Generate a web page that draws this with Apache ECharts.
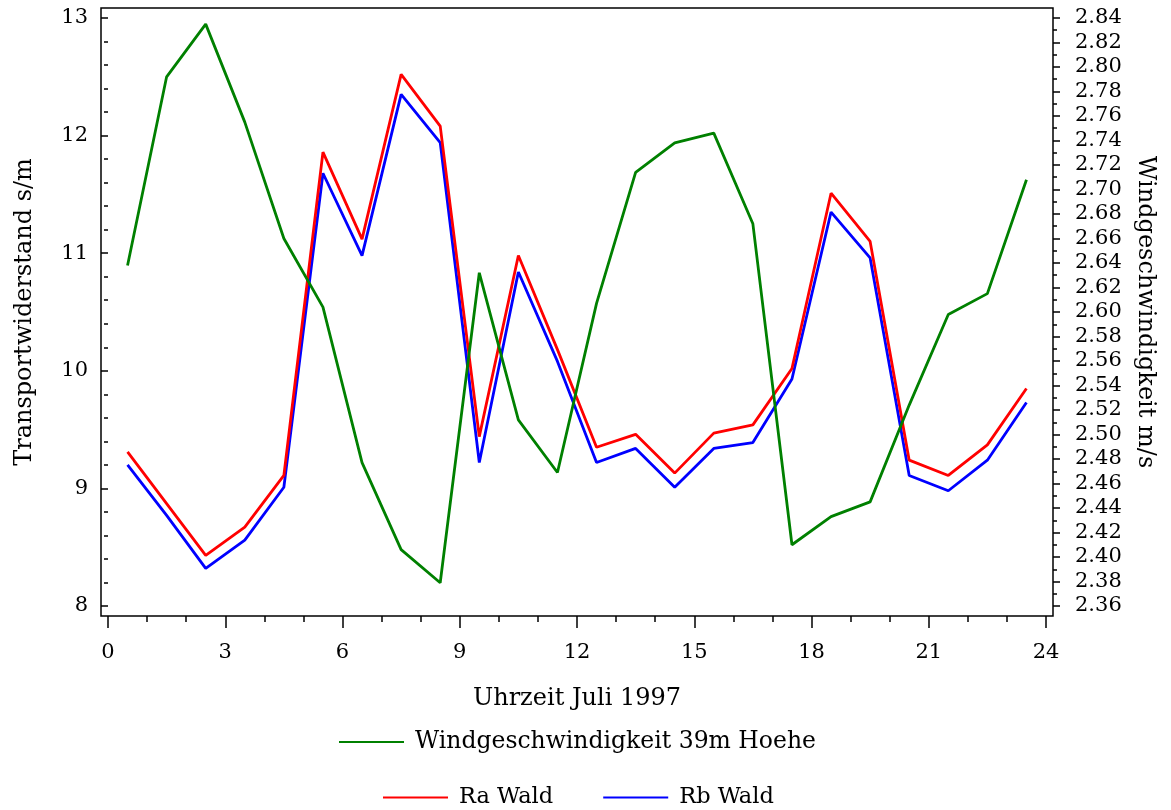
<!DOCTYPE html>
<html>
<head>
<meta charset="utf-8">
<script src="https://cdn.jsdelivr.net/npm/echarts@6/dist/echarts.min.js"></script>
<style>
html,body{margin:0;padding:0;background:#fff;}
#chart{width:1171px;height:810px;}
</style>
</head>
<body>
<div id="chart"></div>
<script>
// Hours (x values, mid-hour)
const hours = [0.5, 1.5, 2.5, 3.5, 4.5, 5.5, 6.5, 7.5, 8.5, 9.5, 10.5, 11.5,
               12.5, 13.5, 14.5, 15.5, 16.5, 17.5, 18.5, 19.5, 20.5, 21.5, 22.5, 23.5];
// Windgeschwindigkeit 39m Hoehe (right axis, m/s)
const wind = [2.638, 2.792, 2.835, 2.755, 2.660, 2.604, 2.477, 2.406, 2.379, 2.632, 2.512, 2.469,
              2.607, 2.714, 2.738, 2.746, 2.672, 2.410, 2.433, 2.445, 2.524, 2.598, 2.615, 2.708];
// Ra Wald (left axis, s/m)
const raWald = [9.31, 8.87, 8.43, 8.67, 9.11, 11.86, 11.12, 12.52, 12.08, 9.44, 10.98, 10.18,
                9.35, 9.46, 9.13, 9.47, 9.54, 10.02, 11.51, 11.10, 9.24, 9.11, 9.37, 9.85];
// Rb Wald (left axis, s/m)
const rbWald = [9.20, 8.77, 8.32, 8.56, 9.01, 11.68, 10.98, 12.35, 11.94, 9.22, 10.84, 10.08,
                9.22, 9.34, 9.01, 9.34, 9.39, 9.93, 11.35, 10.96, 9.11, 8.98, 9.24, 9.73];

const seriesNames = ['Windgeschwindigkeit 39m Hoehe', 'Ra Wald', 'Rb Wald'];
const xTitle = 'Uhrzeit Juli 1997';
const yLeftTitle = 'Transportwiderstand s/m';
const yRightTitle = 'Windgeschwindigkeit m/s';

const FONT = 'DejaVu Serif';
const pair = (xs, ys) => xs.map((x, i) => [x, ys[i]]);

const chart = echarts.init(document.getElementById('chart'), null, {renderer: 'canvas'});
const tickTxt = {fontFamily: FONT, fontSize: 21, color: '#000'};
const titleTxt = {fontFamily: FONT, fontSize: 24, color: '#000'};
const legTxt1 = {fontFamily: FONT, fontSize: 23.5, color: '#000', padding: [0, 0, 0, 6]};
const legTxt2 = {fontFamily: FONT, fontSize: 22.5, color: '#000', padding: [0, 0, 0, 6]};

chart.setOption({
  animation: false,
  backgroundColor: '#fff',
  grid: [
    {left: 108, right: 125, top: 18, bottom: 204, show: false},
    {left: 101, right: 118, top: 8, bottom: 194, show: true, borderColor: '#000', borderWidth: 1.5, backgroundColor: 'transparent', z: 0}
  ],
  legend: [
    {data: [seriesNames[0]], left: 339, top: 730, padding: 0, itemWidth: 65, itemHeight: 2, icon: 'rect',
     textStyle: legTxt1},
    {data: [seriesNames[1], seriesNames[2]], left: 383, top: 786, padding: 0, itemWidth: 65, itemHeight: 2, icon: 'rect',
     itemGap: 50, textStyle: legTxt2}
  ],
  xAxis: [
    {type: 'value', gridIndex: 0, min: 0, max: 24, interval: 3, offset: 10,
     name: xTitle, nameLocation: 'middle', nameGap: 71, nameTextStyle: titleTxt,
     axisLine: {show: false},
     axisTick: {show: true, length: 12, lineStyle: {color: '#000', width: 1.5}},
     minorTick: {show: true, splitNumber: 3, length: 6, lineStyle: {color: '#000', width: 1.5}},
     axisLabel: Object.assign({margin: 26}, tickTxt),
     splitLine: {show: false}},
    {type: 'value', gridIndex: 1, show: false, min: 0, max: 1}
  ],
  yAxis: [
    {type: 'value', gridIndex: 0, position: 'left', min: 8, max: 13, interval: 1, offset: 7,
     name: yLeftTitle, nameLocation: 'middle', nameGap: 64, nameTextStyle: titleTxt,
     axisLine: {show: false},
     axisTick: {show: true, length: 7, lineStyle: {color: '#000', width: 1.5}},
     minorTick: {show: true, splitNumber: 5, length: 4, lineStyle: {color: '#000', width: 1.5}},
     axisLabel: Object.assign({margin: 13}, tickTxt),
     splitLine: {show: false}},
    {type: 'value', gridIndex: 0, position: 'right', min: 2.36, max: 2.84, interval: 0.02, offset: 7,
     name: yRightTitle, nameLocation: 'middle', nameGap: 80, nameRotate: -90, nameTextStyle: titleTxt,
     axisLine: {show: false},
     axisTick: {show: true, length: 7, lineStyle: {color: '#000', width: 1.5}},
     minorTick: {show: true, splitNumber: 2, length: 4, lineStyle: {color: '#000', width: 1.5}},
     axisLabel: Object.assign({margin: 22, formatter: v => v.toFixed(2)}, tickTxt),
     splitLine: {show: false}},
    {type: 'value', gridIndex: 1, show: false, min: 0, max: 1}
  ],
  series: [
    {name: seriesNames[0], type: 'line', xAxisIndex: 0, yAxisIndex: 1, data: pair(hours, wind),
     symbol: 'none', color: '#008000', lineStyle: {color: '#008000', width: 2.8}, z: 4},
    {name: seriesNames[1], type: 'line', xAxisIndex: 0, yAxisIndex: 0, data: pair(hours, raWald),
     symbol: 'none', color: '#ff0000', lineStyle: {color: '#ff0000', width: 2.8}, z: 3},
    {name: seriesNames[2], type: 'line', xAxisIndex: 0, yAxisIndex: 0, data: pair(hours, rbWald),
     symbol: 'none', color: '#0000ff', lineStyle: {color: '#0000ff', width: 2.8}, z: 2}
  ]
});
</script>
</body>
</html>
